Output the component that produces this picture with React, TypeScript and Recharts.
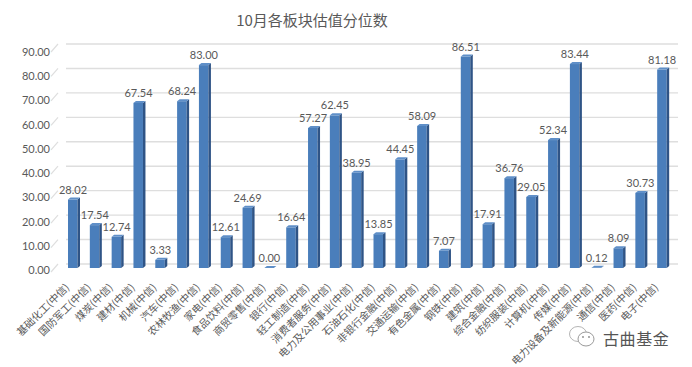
import { BarChart, Bar, XAxis, YAxis, CartesianGrid, LabelList } from "recharts";

const categories = [
  "基础化工(中信)", "国防军工(中信)", "煤炭(中信)", "建材(中信)", "机械(中信)", "汽车(中信)", "农林牧渔(中信)",
  "家电(中信)", "食品饮料(中信)", "商贸零售(中信)", "银行(中信)", "轻工制造(中信)", "消费者服务(中信)",
  "电力及公用事业(中信)", "石油石化(中信)", "非银行金融(中信)", "交通运输(中信)", "有色金属(中信)", "钢铁(中信)",
  "建筑(中信)", "综合金融(中信)", "纺织服装(中信)", "计算机(中信)", "传媒(中信)", "电力设备及新能源(中信)",
  "通信(中信)", "医药(中信)", "电子(中信)",
];
const values = [
  28.02, 17.54, 12.74, 67.54, 3.33, 68.24, 83.0, 12.61, 24.69, 0.0, 16.64, 57.27, 62.45, 38.95,
  13.85, 44.45, 58.09, 7.07, 86.51, 17.91, 36.76, 29.05, 52.34, 83.44, 0.12, 8.09, 30.73, 81.18,
];
const yTicks = [0, 10, 20, 30, 40, 50, 60, 70, 80, 90];

const data = categories.map((name, i) => ({ name, value: values[i] }));

const CJK = '"Noto Sans CJK SC", sans-serif';
const LATIN = 'Lato, "Noto Sans", sans-serif';
const TEXT = "#595959";
const GRID = "#dedede";

// fake 3D column: front face, darker side, lighter cap
function Column3D({ x: x0, y, width, height }: any) {
  const x = x0 + 1;
  const side = 2.5;
  const front = width - side;
  const bottom = y + height;
  return (
    <g>
      <rect x={x} y={y} width={front} height={height} fill="#4a7ebb" />
      <polygon
        points={`${x + front},${y} ${x + width},${y - 2} ${x + width},${bottom - 2} ${x + front},${bottom}`}
        fill="#2f5486"
      />
      <polygon
        points={`${x},${y} ${x + side},${y - 2} ${x + width},${y - 2} ${x + front},${y}`}
        fill="#5f8fc8"
      />
    </g>
  );
}

function YTick({ x, y, payload }: any) {
  return (
    <g>
      <text x={50} y={y + 6 + (268 - y) / 110} textAnchor="end" fontSize={11} fontFamily={LATIN} fill={TEXT}>
        {payload.value.toFixed(2)}
      </text>
      <line x1={x - 3} y1={y + 4} x2={x + 4} y2={y - 4} stroke={GRID} strokeWidth={1.2} />
    </g>
  );
}

function XTick({ x, y, payload }: any) {
  const ax = x - 3;
  const ay = y + 12;
  return (
    <text
      x={ax}
      y={ay}
      textAnchor="end"
      fontSize={10.3}
      fontFamily={CJK}
      fill={TEXT}
      transform={`rotate(-45 ${ax} ${ay})`}
    >
      {payload.value}
    </text>
  );
}

function GridLine({ x1, x2, y1 }: any) {
  return <line x1={x1 + 4} x2={x2 + 5} y1={y1 - 4} y2={y1 - 4} stroke={GRID} strokeWidth={1.4} />;
}

export default function App() {
  return (
    <div style={{ position: "absolute", left: 0, top: 0, width: 692, height: 367, background: "#fff", overflow: "hidden" }}>
      <BarChart
        width={692}
        height={367}
        data={data}
        margin={{ top: 48, right: 19, bottom: 0, left: 0 }}
        barCategoryGap={0}
      >
        <CartesianGrid vertical={false} horizontal={(p: any) => <GridLine key={p.index} {...p} />} />
        <XAxis
          dataKey="name"
          interval={0}
          height={99}
          axisLine={false}
          tickLine={false}
          tick={<XTick />}
        />
        <YAxis
          width={62}
          domain={[0, 90]}
          ticks={yTicks}
          axisLine={false}
          tickLine={false}
          tick={<YTick />}
        />
        <Bar dataKey="value" barSize={12} shape={<Column3D />} isAnimationActive={false}>
          <LabelList
            dataKey="value"
            position="top"
            offset={6}
            formatter={(v: any) => Number(v).toFixed(2)}
            style={{ fontSize: 11, fontFamily: LATIN, fill: TEXT }}
          />
        </Bar>
      </BarChart>
      <div style={{ position: "absolute", left: 0, top: 10, width: 624, textAlign: "center", font: `15px/20px ${CJK}`, color: TEXT }}>
        10月各板块估值分位数
      </div>
      <svg style={{ position: "absolute", left: 568, top: 324 }} width={30} height={26}>
        <ellipse cx={10} cy={10} rx={8.5} ry={7.5} fill="#fff" stroke="#b5b5b5" />
        <ellipse cx={18} cy={15} rx={8} ry={7} fill="#fff" stroke="#9a9a9a" />
        <circle cx={15} cy={13} r={0.9} fill="#888" />
        <circle cx={21} cy={13} r={0.9} fill="#888" />
      </svg>
      <div style={{ position: "absolute", left: 603, top: 326, font: `16px ${CJK}`, color: "#555", letterSpacing: 0.6 }}>
        古曲基金
      </div>
    </div>
  );
}
